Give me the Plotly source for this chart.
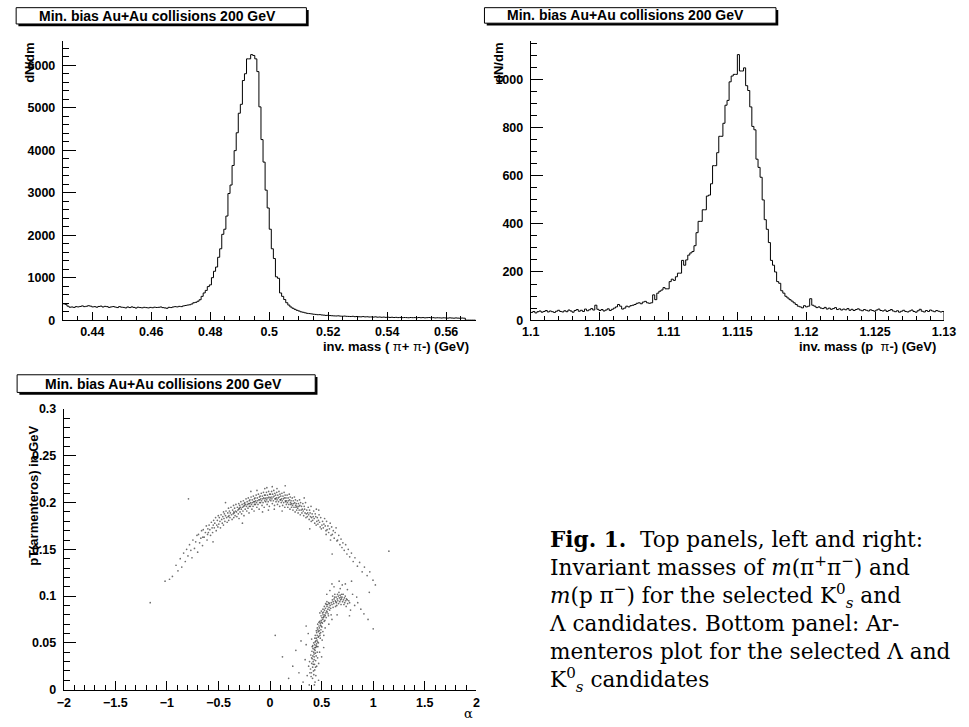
import numpy as np
import plotly.graph_objects as go

W, H = 969, 727

# ---------------- data ----------------
title_text = "Min. bias Au+Au collisions 200 GeV"

# K0s invariant mass histogram, 200 bins 0.43 - 0.57 GeV
k0_lo, k0_hi = 0.43, 0.57
k0_counts = [
    385, 372, 330, 305, 310, 300, 318, 312,
    322, 335, 318, 326, 340, 330, 312, 318,
    305, 322, 330, 310, 325, 318, 300, 312,
    320, 308, 296, 318, 305, 300, 288, 310,
    296, 312, 300, 285, 305, 296, 290, 302,
    295, 288, 300, 292, 305, 298, 302, 310,
    295, 288, 280, 302, 296, 310, 318, 312,
    325, 318, 335, 345, 355, 362, 380, 410,
    420, 445, 480, 560, 640, 700, 790, 830,
    1000, 1150, 1250, 1480, 1680, 2020, 2140, 2450,
    2980, 3180, 3640, 3990, 4410, 4870, 5080, 5640,
    5800, 6150, 6150, 6250, 6230, 6150, 5850, 5020,
    4250, 3720, 3060, 2640, 2140, 1680, 1450, 1020,
    985, 640, 560, 485, 410, 355, 310, 280,
    255, 232, 215, 195, 185, 172, 160, 155,
    148, 140, 135, 128, 130, 122, 118, 112,
    115, 108, 104, 100, 98, 102, 95, 92,
    96, 90, 88, 85, 90, 82, 86, 80,
    78, 84, 77, 80, 74, 76, 72, 78,
    70, 74, 68, 72, 66, 70, 64, 68,
    62, 66, 60, 64, 58, 62, 60, 56,
    62, 58, 60, 55, 62, 57, 60, 54,
    58, 62, 55, 58, 52, 56, 54, 50,
    55, 52, 48, 54, 50, 47, 52, 48,
    45, 50, 46, 0, 0, 0, 0, 0,
]

# Lambda invariant mass histogram, 200 bins 1.10 - 1.13 GeV
lam_lo, lam_hi = 1.10, 1.13
lam_counts = [
    32, 36, 30, 35, 38, 33, 36, 40,
    34, 38, 35, 32, 37, 41, 36, 34,
    39, 35, 42, 38, 33, 40, 44, 37,
    41, 36, 46, 39, 43, 48, 42, 62,
    45, 40, 44, 38, 42, 47, 40, 45,
    50, 55, 65, 58, 46, 50, 58, 55,
    60, 62, 65, 70, 72, 68, 75, 78,
    72, 70, 72, 105, 85, 112, 120, 125,
    135, 130, 130, 160, 170, 165, 180, 195,
    195, 248, 228, 250, 270, 279, 285, 309,
    363, 410, 410, 458, 458, 515, 519, 566,
    641, 641, 695, 763, 763, 817, 892, 912,
    989, 1013, 1020, 1020, 1102, 1034, 1034, 1047,
    973, 953, 885, 804, 790, 668, 634, 593,
    499, 417, 377, 322, 248, 228, 200, 160,
    153, 122, 112, 99, 92, 85, 79, 72,
    65, 58, 55, 51, 60, 55, 58, 89,
    62, 58, 52, 55, 50, 48, 53, 46,
    50, 45, 48, 52, 44, 47, 42, 46,
    43, 48, 41, 45, 40, 44, 47, 42,
    39, 44, 41, 38, 43, 40, 37, 42,
    46, 40, 38, 42, 36, 40, 44, 38,
    35, 39, 33, 37, 41, 36, 34, 38,
    42, 36, 33, 39, 45, 37, 34, 40,
    36, 42, 38, 35, 40, 37, 34, 36,
]

# Armenteros candidates (alpha, pT) - K0s band
k0_points = [
    (-0.947, 0.121), (-0.912, 0.133), (-0.893, 0.127), (-0.871, 0.140), (-0.856, 0.131),
    (-0.838, 0.146), (-0.822, 0.137), (-0.809, 0.150), (-0.796, 0.143), (-0.781, 0.155),
    (-0.768, 0.149), (-0.757, 0.141), (-0.748, 0.160), (-0.733, 0.151), (-0.721, 0.158),
    (-0.709, 0.165), (-0.702, 0.147), (-0.694, 0.166), (-0.683, 0.157), (-0.671, 0.162),
    (-0.664, 0.170), (-0.655, 0.154), (-0.652, 0.163), (-0.648, 0.171), (-0.639, 0.163),
    (-0.627, 0.168), (-0.618, 0.175), (-0.611, 0.160), (-0.606, 0.166), (-0.603, 0.172),
    (-0.598, 0.168), (-0.591, 0.176), (-0.584, 0.171), (-0.577, 0.165), (-0.569, 0.179),
    (-0.562, 0.173), (-0.557, 0.168), (-0.551, 0.176), (-0.547, 0.181), (-0.541, 0.173),
    (-0.536, 0.178), (-0.528, 0.184), (-0.522, 0.170), (-0.517, 0.176), (-0.511, 0.181),
    (-0.506, 0.174), (-0.502, 0.186), (-0.497, 0.177), (-0.492, 0.184), (-0.486, 0.180),
    (-0.481, 0.173), (-0.475, 0.187), (-0.469, 0.182), (-0.463, 0.178), (-0.458, 0.185),
    (-0.452, 0.176), (-0.451, 0.190), (-0.447, 0.183), (-0.443, 0.188), (-0.438, 0.180),
    (-0.432, 0.186), (-0.427, 0.191), (-0.421, 0.184), (-0.416, 0.179), (-0.410, 0.189),
    (-0.406, 0.185), (-0.403, 0.194), (-0.401, 0.181), (-0.398, 0.186), (-0.394, 0.191),
    (-0.389, 0.184), (-0.385, 0.189), (-0.379, 0.195), (-0.374, 0.187), (-0.368, 0.182),
    (-0.363, 0.192), (-0.358, 0.188), (-0.354, 0.197), (-0.352, 0.184), (-0.351, 0.190),
    (-0.348, 0.189), (-0.344, 0.194), (-0.339, 0.186), (-0.335, 0.191), (-0.331, 0.198),
    (-0.326, 0.190), (-0.322, 0.185), (-0.317, 0.195), (-0.312, 0.192), (-0.308, 0.188),
    (-0.304, 0.199), (-0.302, 0.193), (-0.301, 0.183), (-0.298, 0.194), (-0.295, 0.197),
    (-0.291, 0.190), (-0.287, 0.195), (-0.283, 0.201), (-0.279, 0.193), (-0.276, 0.188),
    (-0.271, 0.198), (-0.267, 0.195), (-0.263, 0.191), (-0.259, 0.202), (-0.256, 0.196),
    (-0.253, 0.186), (-0.251, 0.199), (-0.248, 0.197), (-0.245, 0.200), (-0.241, 0.193),
    (-0.237, 0.198), (-0.233, 0.204), (-0.229, 0.196), (-0.226, 0.191), (-0.222, 0.201),
    (-0.218, 0.198), (-0.214, 0.194), (-0.211, 0.205), (-0.207, 0.199), (-0.204, 0.189),
    (-0.202, 0.202), (-0.201, 0.196), (-0.198, 0.199), (-0.195, 0.203), (-0.191, 0.196),
    (-0.187, 0.200), (-0.184, 0.206), (-0.180, 0.198), (-0.176, 0.193), (-0.173, 0.203),
    (-0.169, 0.200), (-0.165, 0.196), (-0.162, 0.207), (-0.158, 0.201), (-0.155, 0.191),
    (-0.152, 0.204), (-0.151, 0.198), (-0.186, 0.212), (-0.149, 0.201), (-0.146, 0.205),
    (-0.142, 0.198), (-0.139, 0.202), (-0.135, 0.208), (-0.131, 0.200), (-0.128, 0.195),
    (-0.124, 0.205), (-0.121, 0.202), (-0.117, 0.198), (-0.113, 0.209), (-0.109, 0.203),
    (-0.106, 0.193), (-0.103, 0.206), (-0.101, 0.200), (-0.127, 0.213), (-0.099, 0.203),
    (-0.096, 0.207), (-0.092, 0.200), (-0.089, 0.204), (-0.085, 0.210), (-0.082, 0.202),
    (-0.078, 0.197), (-0.075, 0.207), (-0.071, 0.204), (-0.068, 0.200), (-0.064, 0.211),
    (-0.061, 0.205), (-0.057, 0.195), (-0.054, 0.208), (-0.052, 0.202), (-0.051, 0.215),
    (-0.073, 0.190), (-0.049, 0.204), (-0.046, 0.208), (-0.042, 0.201), (-0.039, 0.205),
    (-0.035, 0.211), (-0.032, 0.203), (-0.028, 0.198), (-0.025, 0.208), (-0.021, 0.205),
    (-0.018, 0.201), (-0.014, 0.212), (-0.011, 0.206), (-0.007, 0.196), (-0.004, 0.209),
    (-0.002, 0.203), (-0.031, 0.216), (-0.016, 0.192), (0.001, 0.205), (0.004, 0.209),
    (0.008, 0.202), (0.011, 0.206), (0.015, 0.212), (0.018, 0.204), (0.022, 0.199),
    (0.025, 0.209), (0.029, 0.206), (0.032, 0.202), (0.036, 0.213), (0.039, 0.207),
    (0.043, 0.197), (0.046, 0.210), (0.048, 0.204), (0.021, 0.217), (0.041, 0.193),
    (0.051, 0.204), (0.054, 0.208), (0.058, 0.201), (0.061, 0.205), (0.065, 0.211),
    (0.068, 0.203), (0.072, 0.198), (0.075, 0.208), (0.079, 0.205), (0.082, 0.201),
    (0.086, 0.212), (0.089, 0.206), (0.093, 0.196), (0.096, 0.209), (0.098, 0.203),
    (0.067, 0.215), (0.101, 0.203), (0.104, 0.207), (0.108, 0.200), (0.111, 0.204),
    (0.115, 0.210), (0.118, 0.202), (0.122, 0.197), (0.125, 0.207), (0.129, 0.204),
    (0.132, 0.200), (0.136, 0.211), (0.139, 0.205), (0.143, 0.195), (0.146, 0.208),
    (0.148, 0.202), (0.117, 0.191), (0.151, 0.201), (0.154, 0.205), (0.158, 0.198),
    (0.161, 0.202), (0.165, 0.208), (0.168, 0.200), (0.172, 0.195), (0.175, 0.205),
    (0.179, 0.202), (0.182, 0.198), (0.186, 0.209), (0.189, 0.203), (0.193, 0.193),
    (0.196, 0.206), (0.198, 0.200), (0.201, 0.198), (0.204, 0.202), (0.208, 0.195),
    (0.211, 0.199), (0.215, 0.205), (0.218, 0.197), (0.222, 0.192), (0.225, 0.202),
    (0.229, 0.199), (0.232, 0.195), (0.236, 0.206), (0.239, 0.200), (0.243, 0.190),
    (0.246, 0.203), (0.248, 0.197), (0.251, 0.195), (0.254, 0.199), (0.258, 0.192),
    (0.261, 0.196), (0.265, 0.202), (0.268, 0.194), (0.272, 0.189), (0.275, 0.199),
    (0.279, 0.196), (0.282, 0.192), (0.286, 0.203), (0.289, 0.197), (0.293, 0.187),
    (0.296, 0.200), (0.301, 0.192), (0.305, 0.196), (0.309, 0.189), (0.313, 0.193),
    (0.318, 0.199), (0.322, 0.191), (0.326, 0.186), (0.331, 0.196), (0.335, 0.193),
    (0.339, 0.189), (0.344, 0.200), (0.348, 0.184), (0.331, 0.205), (0.352, 0.188),
    (0.356, 0.192), (0.361, 0.185), (0.365, 0.189), (0.370, 0.195), (0.374, 0.187),
    (0.379, 0.182), (0.383, 0.192), (0.388, 0.189), (0.392, 0.185), (0.397, 0.196),
    (0.399, 0.180), (0.403, 0.184), (0.408, 0.188), (0.413, 0.181), (0.418, 0.185),
    (0.423, 0.191), (0.428, 0.183), (0.433, 0.178), (0.438, 0.188), (0.443, 0.185),
    (0.447, 0.176), (0.449, 0.193), (0.453, 0.180), (0.458, 0.184), (0.464, 0.177),
    (0.469, 0.181), (0.475, 0.187), (0.480, 0.179), (0.486, 0.174), (0.491, 0.184),
    (0.497, 0.172), (0.472, 0.192), (0.503, 0.176), (0.509, 0.180), (0.516, 0.173),
    (0.522, 0.177), (0.529, 0.183), (0.535, 0.175), (0.542, 0.170), (0.548, 0.180),
    (0.544, 0.166), (0.553, 0.171), (0.561, 0.175), (0.568, 0.168), (0.576, 0.172),
    (0.583, 0.178), (0.591, 0.165), (0.597, 0.174), (0.586, 0.160), (0.604, 0.166),
    (0.613, 0.170), (0.622, 0.162), (0.631, 0.168), (0.640, 0.173), (0.648, 0.159),
    (0.655, 0.160), (0.666, 0.165), (0.677, 0.155), (0.688, 0.161), (0.697, 0.152),
    (0.706, 0.157), (0.719, 0.149), (0.733, 0.155), (0.745, 0.145), (0.758, 0.150),
    (0.772, 0.142), (0.789, 0.146), (0.806, 0.137), (0.823, 0.141), (0.847, 0.132),
    (0.868, 0.136), (0.893, 0.126), (0.915, 0.131), (0.941, 0.122), (0.967, 0.126),
    (0.998, 0.117), (1.021, 0.112), (1.152, 0.148), (0.962, 0.104),
    (-1.162, 0.093), (-1.018, 0.116), (-0.791, 0.204), (-0.975, 0.118), (-0.553, 0.158),
    (0.602, 0.145), (-0.432, 0.200), (0.385, 0.172), (-0.268, 0.178), (0.147, 0.218),
]

# Armenteros candidates (alpha, pT) - Lambda band
lam_points = [
    (0.392, 0.022), (0.401, 0.018), (0.404, 0.028), (0.413, 0.024), (0.409, 0.033),
    (0.421, 0.020), (0.418, 0.030), (0.426, 0.038), (0.431, 0.027), (0.428, 0.035),
    (0.437, 0.042), (0.442, 0.031), (0.439, 0.039), (0.383, 0.030), (0.395, 0.037),
    (0.406, 0.041), (0.452, 0.025), (0.412, 0.012), (0.444, 0.015), (0.461, 0.034),
    (0.374, 0.025), (0.453, 0.046), (0.471, 0.028), (0.416, 0.044), (0.423, 0.040),
    (0.435, 0.045), (0.427, 0.032), (0.415, 0.036), (0.433, 0.021), (0.398, 0.014),
    (0.447, 0.036), (0.408, 0.046), (0.419, 0.027), (0.441, 0.024), (0.386, 0.018),
    (0.424, 0.016), (0.457, 0.040), (0.436, 0.008), (0.403, 0.034), (0.429, 0.043),
    (0.432, 0.048), (0.441, 0.045), (0.444, 0.052), (0.451, 0.049), (0.448, 0.055),
    (0.461, 0.051), (0.457, 0.058), (0.452, 0.061), (0.463, 0.064), (0.472, 0.057),
    (0.468, 0.062), (0.474, 0.068), (0.481, 0.060), (0.478, 0.066), (0.486, 0.071),
    (0.493, 0.064), (0.489, 0.069), (0.496, 0.074), (0.502, 0.067), (0.499, 0.072),
    (0.438, 0.058), (0.434, 0.055), (0.423, 0.050), (0.512, 0.062), (0.521, 0.058),
    (0.414, 0.047), (0.505, 0.053), (0.462, 0.070), (0.534, 0.066), (0.403, 0.054),
    (0.446, 0.047), (0.455, 0.053), (0.466, 0.056), (0.476, 0.063), (0.484, 0.058),
    (0.458, 0.066), (0.469, 0.050), (0.491, 0.061), (0.449, 0.063), (0.482, 0.073),
    (0.437, 0.051), (0.464, 0.046), (0.473, 0.072), (0.487, 0.055), (0.495, 0.068),
    (0.503, 0.077), (0.511, 0.075), (0.514, 0.080), (0.522, 0.078), (0.519, 0.083),
    (0.531, 0.080), (0.528, 0.085), (0.541, 0.082), (0.537, 0.087), (0.548, 0.084),
    (0.552, 0.089), (0.561, 0.086), (0.558, 0.091), (0.572, 0.088), (0.569, 0.093),
    (0.583, 0.090), (0.524, 0.073), (0.544, 0.077), (0.563, 0.081), (0.578, 0.085),
    (0.494, 0.079), (0.513, 0.086), (0.551, 0.094), (0.592, 0.080), (0.483, 0.082),
    (0.507, 0.071), (0.517, 0.077), (0.526, 0.089), (0.535, 0.079), (0.546, 0.091),
    (0.555, 0.083), (0.566, 0.079), (0.574, 0.092), (0.588, 0.087), (0.497, 0.084),
    (0.532, 0.074), (0.539, 0.092), (0.509, 0.082),
    (0.593, 0.093), (0.601, 0.091), (0.604, 0.096), (0.612, 0.094), (0.621, 0.097),
    (0.618, 0.092), (0.632, 0.095), (0.641, 0.099), (0.638, 0.094), (0.652, 0.097),
    (0.661, 0.100), (0.657, 0.095), (0.672, 0.098), (0.683, 0.096), (0.679, 0.101),
    (0.692, 0.097), (0.703, 0.094), (0.698, 0.099), (0.712, 0.096), (0.721, 0.098),
    (0.724, 0.093), (0.733, 0.095), (0.741, 0.097), (0.752, 0.092), (0.763, 0.095),
    (0.628, 0.102), (0.668, 0.104), (0.709, 0.102), (0.647, 0.090), (0.688, 0.091),
    (0.738, 0.089), (0.611, 0.088), (0.626, 0.099), (0.643, 0.093), (0.664, 0.092),
    (0.676, 0.094), (0.695, 0.102), (0.716, 0.091), (0.729, 0.100), (0.748, 0.096),
    (0.771, 0.093), (0.607, 0.100), (0.635, 0.089), (0.654, 0.102), (0.686, 0.099),
    (0.620, 0.110), (0.700, 0.112), (0.750, 0.107), (0.800, 0.102), (0.820, 0.090),
    (0.780, 0.085), (0.850, 0.093), (0.880, 0.086), (0.790, 0.116), (0.670, 0.116),
    (1.000, 0.065), (0.950, 0.075), (0.600, 0.075), (0.650, 0.080), (0.570, 0.070),
    (0.520, 0.045), (0.350, 0.068), (0.550, 0.102), (0.580, 0.106), (0.480, 0.040),
    (0.500, 0.035), (0.470, 0.010), (0.430, 0.005), (0.050, 0.058), (0.120, 0.035),
    (0.180, 0.012), (0.250, 0.042), (0.220, 0.025), (0.280, 0.018), (0.300, 0.052),
    (0.320, 0.008), (0.340, 0.032), (0.350, 0.048), (0.360, 0.015), (0.370, 0.060),
    (0.380, 0.005), (0.680, 0.108), (0.730, 0.113), (0.840, 0.099), (0.770, 0.079),
    (0.910, 0.081), (0.600, 0.113),
]

caption_lines = [
    "<b>Fig. 1.</b>  Top panels, left and right:",
    "Invariant masses of <i>m</i>(π<sup>+</sup>π<sup>−</sup>) and",
    "<i>m</i>(p π<sup>−</sup>) for the selected K<sup>0</sup><sub><i>s</i></sub> and",
    "Λ candidates. Bottom panel: Ar-",
    "menteros plot for the selected Λ and",
    "K<sup>0</sup><sub><i>s</i></sub> candidates",
]

# ---------------- helpers ----------------
def px(xp):
    return xp / W


def py(yp):
    return 1 - yp / H


def step_xy(lo, hi, counts):
    edges = np.linspace(lo, hi, len(counts) + 1)
    xs = list(edges[:-1]) + [edges[-1], edges[-1]]
    ys = list(counts) + [counts[-1], 0]
    return xs, ys


SANS = "Liberation Sans"
TICKFONT = dict(family=SANS, size=12.5, color="black")


def axis(dom, rng, dtick, mdtick, tlen, mlen, anchor, standoff):
    return dict(
        domain=dom, range=rng, anchor=anchor,
        showline=True, linecolor="black", linewidth=1,
        ticks="inside", ticklen=tlen, tickwidth=1, tickcolor="black",
        tick0=0, dtick=dtick,
        minor=dict(ticks="inside", ticklen=mlen, tickwidth=1, tickcolor="black",
                   dtick=mdtick, tick0=0, showgrid=False),
        showgrid=False, zeroline=False, tickfont=TICKFONT,
        tickprefix="<b>", ticksuffix="</b>",
        ticklabelstandoff=standoff, fixedrange=True,
    )


# panel pixel boxes (left, right, top, bottom)
P1 = (55, 477, 35, 319.3)
P2 = (533.3, 955.7, 35, 319.3)
P3 = (56, 477.7, 410, 696)


def dx(p):
    return [px(p[0]), px(p[1])]


def dy(p):
    return [py(p[3]), py(p[2])]


fig = go.Figure()

x1, y1 = step_xy(k0_lo, k0_hi, k0_counts)
fig.add_trace(go.Scatter(x=x1, y=y1, mode="lines", xaxis="x", yaxis="y",
                         line=dict(color="black", width=1, shape="hv"),
                         hoverinfo="skip", showlegend=False))
x2, y2 = step_xy(lam_lo, lam_hi, lam_counts)
fig.add_trace(go.Scatter(x=x2, y=y2, mode="lines", xaxis="x2", yaxis="y2",
                         line=dict(color="black", width=1, shape="hv"),
                         hoverinfo="skip", showlegend=False))

arm_alpha = [p[0] for p in k0_points] + [p[0] for p in lam_points]
arm_pt = [p[1] for p in k0_points] + [p[1] for p in lam_points]
fig.add_trace(go.Scatter(x=arm_alpha, y=arm_pt, mode="markers", xaxis="x3", yaxis="y3",
                         marker=dict(color="#222222", size=1.7, opacity=0.65),
                         hoverinfo="skip", showlegend=False))

k0_ymax = 1.05 * max(k0_counts)
lam_ymax = 1.05 * max(lam_counts)

fig.update_layout(
    width=W, height=H, margin=dict(l=0, r=0, t=0, b=0),
    paper_bgcolor="white", plot_bgcolor="white", showlegend=False,
    xaxis=axis(dx(P1), [k0_lo, k0_hi], 0.02, 0.005, 8.5, 4.3, "y", 0),
    yaxis=axis(dy(P1), [0, k0_ymax], 1000, 200, 12.7, 6.3, "x", 4),
    xaxis2=axis(dx(P2), [lam_lo, lam_hi], 0.005, 0.001, 8.5, 4.3, "y2", 0),
    yaxis2=axis(dy(P2), [0, lam_ymax], 200, 50, 12.7, 6.3, "x2", 4),
    xaxis3=axis(dx(P3), [-2, 2], 0.5, 0.1, 8.5, 4.3, "y3", 1),
    yaxis3=axis(dy(P3), [0, 0.3], 0.05, 0.01, 12.7, 6.3, "x3", 4),
)

# title boxes with shadow
shapes = []
annotations = []
for (bx0, by0, bx1, by1, tx, ty) in [
    (7.3, 0.7, 304, 17.3, 151.3, 8.7),
    (486, 0.7, 784, 16.5, 630, 8.3),
    (8.3, 375, 313, 393, 157.5, 384.5),
]:
    shapes.append(dict(type="rect", xref="paper", yref="paper",
                       x0=px(bx0 + 2.3), x1=px(bx1 + 2.3), y0=py(by1 + 2.3), y1=py(by0 + 2.3),
                       line=dict(width=0), fillcolor="black", layer="above"))
    shapes.append(dict(type="rect", xref="paper", yref="paper",
                       x0=px(bx0), x1=px(bx1), y0=py(by1), y1=py(by0),
                       line=dict(width=1, color="black"), fillcolor="white", layer="above"))
    annotations.append(dict(text="<b>" + title_text + "</b>", xref="paper", yref="paper",
                            x=px(tx), y=py(ty),
                            xanchor="center", yanchor="middle", showarrow=False,
                            font=dict(family=SANS, size=14, color="black")))

TFONT = dict(family=SANS, size=13, color="black")
# y titles
annotations.append(dict(text="<b>dN/dm</b>", textangle=-90, xref="paper", yref="paper",
                        x=px(21), y=py(35), xanchor="center", yanchor="top",
                        showarrow=False, font=TFONT))
annotations.append(dict(text="<b>dN/dm</b>", textangle=-90, xref="paper", yref="paper",
                        x=px(500.5), y=py(35), xanchor="center", yanchor="top",
                        showarrow=False, font=TFONT))
annotations.append(dict(text="<b>pT(armenteros) in GeV</b>", textangle=-90,
                        xref="paper", yref="paper",
                        x=px(25), y=py(498), xanchor="center", yanchor="middle",
                        showarrow=False, font=TFONT))
# x titles
annotations.append(dict(text="<b>inv. mass ( </b>π<b>+ </b>π<b>-) (GeV)</b>",
                        xref="paper", yref="paper", x=px(472), y=py(346),
                        xanchor="right", yanchor="middle", showarrow=False,
                        font=TFONT))
annotations.append(dict(text="<b>inv. mass (p  </b>π<b>-) (GeV)</b>",
                        xref="paper", yref="paper", x=px(950), y=py(346),
                        xanchor="right", yanchor="middle", showarrow=False,
                        font=TFONT))
annotations.append(dict(text="α", xref="paper", yref="paper", x=px(470), y=py(720),
                        xanchor="center", yanchor="middle", showarrow=False,
                        font=dict(family="DejaVu Serif", size=13, color="black")))

# caption
annotations.append(dict(text="<br>".join(caption_lines), xref="paper", yref="paper",
                        x=px(550), y=py(528), xanchor="left", yanchor="top", align="left",
                        showarrow=False,
                        font=dict(family="DejaVu Serif", size=21.6, color="black")))

fig.update_layout(shapes=shapes, annotations=annotations)
fig.write_html(
    "out.html",
    config={"displayModeBar": False, "staticPlot": True},
    post_script="document.body.style.margin='0';document.body.style.overflow='hidden';",
)
